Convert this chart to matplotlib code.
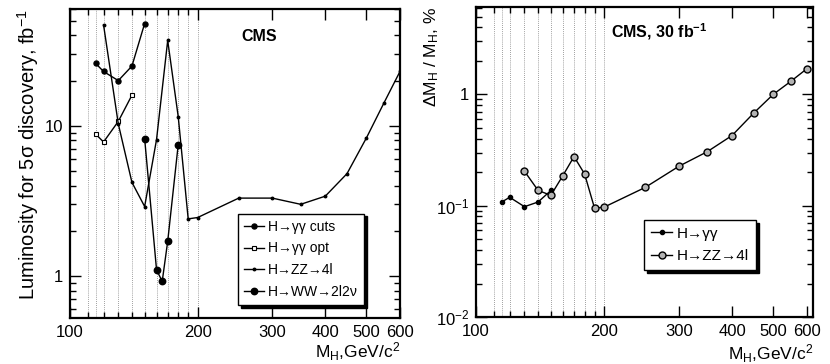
import numpy as np
import matplotlib
matplotlib.use("Agg")
import matplotlib.pyplot as plt
from matplotlib.ticker import FixedLocator, FixedFormatter, NullFormatter

plt.rcParams['font.family'] = ['Liberation Sans', 'DejaVu Sans']
plt.rcParams['mathtext.fontset'] = 'custom'
plt.rcParams['mathtext.rm'] = 'Liberation Sans'
plt.rcParams['mathtext.it'] = 'Liberation Sans:italic'
plt.rcParams['mathtext.bf'] = 'Liberation Sans:bold'

# Data: left panel (luminosity for 5 sigma discovery)
gg_cuts_m = [115, 120, 130, 140, 150]
gg_cuts_lumi = [26, 23, 20, 25, 48]
gg_opt_m = [115, 120, 130, 140]
gg_opt_lumi = [8.8, 7.8, 10.7, 16]
zz_m = [120, 130, 140, 150, 160, 170, 180, 190, 200, 250, 300, 350, 400, 450, 500, 550, 600]
zz_lumi = [47, 10.3, 4.2, 2.9, 8.1, 37, 11.5, 2.4, 2.45, 3.3, 3.3, 3.0, 3.4, 4.8, 8.3, 14.2, 23]
ww_m = [150, 160, 165, 170, 180]
ww_lumi = [8.2, 1.1, 0.92, 1.7, 7.5]

# Data: right panel (mass resolution, %)
res_gg_m = [115, 120, 130, 140, 150]
res_gg = [0.108, 0.119, 0.098, 0.108, 0.137]
res_zz_m = [130, 140, 150, 160, 170, 180, 190, 200, 250, 300, 350, 400, 450, 500, 550, 600]
res_zz = [0.204, 0.137, 0.124, 0.186, 0.276, 0.193, 0.095, 0.097, 0.146, 0.226, 0.306, 0.427,
          0.68, 1.0, 1.31, 1.7]

# ticks / labels
grid_x = [110, 115, 120, 130, 140, 150, 160, 170, 180, 190, 200]
x_major = [100, 200, 300, 400, 500, 600]
x_major_labels = ['100', '200', '300', '400', '500', '600']
x_minor = [110, 120, 130, 140, 150, 160, 170, 180, 190]
left_y_major = [1, 10]
left_y_labels = ['1', '10']
right_y_major = [0.01, 0.1, 1]
right_y_labels = ['$10^{-2}$', '$10^{-1}$', '1']
x_title = 'M$_{\\mathrm{H}}$,GeV/c$^{2}$'


def style_axis(ax, ymaj, ylabels, ymin_list):
    ax.set_xscale('log')
    ax.set_yscale('log')
    ax.xaxis.set_major_locator(FixedLocator(x_major))
    ax.xaxis.set_major_formatter(FixedFormatter(x_major_labels))
    ax.xaxis.set_minor_locator(FixedLocator(x_minor))
    ax.xaxis.set_minor_formatter(NullFormatter())
    ax.yaxis.set_major_locator(FixedLocator(ymaj))
    ax.yaxis.set_major_formatter(FixedFormatter(ylabels))
    ax.yaxis.set_minor_locator(FixedLocator(ymin_list))
    ax.yaxis.set_minor_formatter(NullFormatter())
    ax.tick_params(which='both', direction='in', top=True, right=True, width=1.0)
    ax.tick_params(which='major', length=8, labelsize=12, pad=5)
    ax.tick_params(which='minor', length=4)
    for s in ax.spines.values():
        s.set_linewidth(1.6)
    for gx in grid_x:
        ax.axvline(gx, color='0.5', lw=0.6, ls=(0, (1, 1.5)), zorder=0)


def make_legend(ax, anchor, fs):
    leg = ax.legend(loc='lower left', bbox_to_anchor=anchor, fontsize=fs, frameon=True,
                    fancybox=False, edgecolor='black', framealpha=1.0,
                    shadow={'color': 'black', 'alpha': 1.0}, handlelength=1.4,
                    labelspacing=0.55, borderpad=0.45, handletextpad=0.3,
                    borderaxespad=0.0)
    leg.get_frame().set_linewidth(1.0)
    return leg


fig = plt.figure(figsize=(8.3, 3.64), dpi=100)

# left panel
ax1 = fig.add_axes([0.0843, 0.1264, 0.3976, 0.849])
minor_left = [d * 10.0 ** e for e in (-1, 0, 1) for d in range(2, 10)]
style_axis(ax1, left_y_major, left_y_labels, minor_left)
ax1.plot(gg_cuts_m, gg_cuts_lumi, '-o', color='black', lw=1.0, ms=3.6, label='H→γγ cuts')
ax1.plot(gg_opt_m, gg_opt_lumi, '-s', color='black', lw=1.0, ms=3.2, mfc='white',
         mew=0.8, label='H→γγ opt')
ax1.plot(zz_m, zz_lumi, '-o', color='black', lw=1.0, ms=1.8, label='H→ZZ→4l')
ax1.plot(ww_m, ww_lumi, '-o', color='black', lw=1.0, ms=4.6, label='H→WW→2l2ν')
ax1.set_xlim(100, 600)
ax1.set_ylim(0.525, 60)
ax1.set_ylabel('Luminosity for 5σ discovery, fb$^{-1}$', fontsize=14.5, loc='top')
ax1.yaxis.set_label_coords(-0.088, 1.0)
ax1.text(0.52, 0.895, 'CMS', transform=ax1.transAxes, fontsize=11.5, fontweight='bold')
ax1.text(1.0, -0.128, x_title, transform=ax1.transAxes, fontsize=12.5,
         ha='right', va='baseline')
make_legend(ax1, (0.509, 0.042), 10)

# right panel
ax2 = fig.add_axes([0.5735, 0.129, 0.406, 0.852])
minor_right = [d * 10.0 ** e for e in (-2, -1, 0) for d in range(2, 10)]
style_axis(ax2, right_y_major, right_y_labels, minor_right)
ax2.plot(res_gg_m, res_gg, '-o', color='black', lw=1.0, ms=3.0, label='H→γγ')
ax2.plot(res_zz_m, res_zz, '-o', color='black', lw=1.0, ms=5.0, mfc='0.7', mew=1.0,
         label='H→ZZ→4l')
ax2.set_xlim(100, 620)
ax2.set_ylim(0.01, 6.1)
ax2.set_ylabel('ΔM$_{\\mathrm{H}}$ / M$_{\\mathrm{H}}$, %', fontsize=12.5, loc='top')
ax2.yaxis.set_label_coords(-0.104, 1.0)
ax2.text(0.4, 0.9, 'CMS, 30 fb$^{\\mathbf{-1}}$', transform=ax2.transAxes, fontsize=11.5,
         fontweight='bold')
ax2.text(1.0, -0.136, x_title, transform=ax2.transAxes, fontsize=12.5,
         ha='right', va='baseline')
make_legend(ax2, (0.4985, 0.152), 11)

fig.savefig('out.png', dpi=100)
